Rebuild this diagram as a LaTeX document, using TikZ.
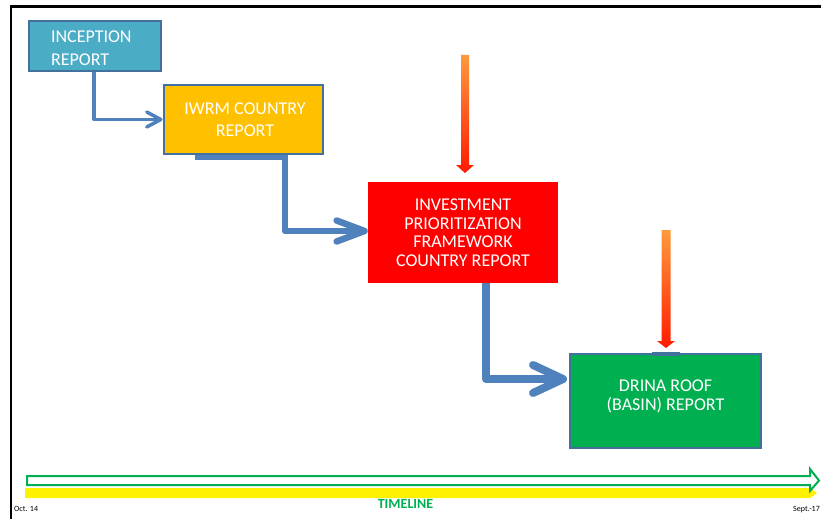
\documentclass[tikz,border=0pt]{standalone}
\usepackage{fontspec}
\setmainfont{Carlito}
\usetikzlibrary{arrows.meta}
\definecolor{incfill}{HTML}{4BACC6}
\definecolor{boxline}{HTML}{41719C}
\definecolor{iwrmfill}{HTML}{FFC000}
\definecolor{grnfill}{HTML}{00B050}
\definecolor{connblue}{HTML}{4F81BD}
\definecolor{arrorange}{HTML}{FF9A3C}
\definecolor{arrred}{HTML}{FF1A00}
\begin{document}
\begin{tikzpicture}[x=1pt,y=-1pt,
  box/.style={rectangle, text=white, inner sep=0pt, align=center},
  outlined/.style={draw=boxline, line width=2pt},
  conn/.style={draw=connblue, line join=round},
  feed/.style={top color=arrorange, bottom color=arrred},
  smalltxt/.style={font=\fontsize{8}{9}\selectfont, inner sep=0pt, anchor=base west}]
\useasboundingbox (0,0) rectangle (821,519);
\fill[white] (0,0) rectangle (821,519);
% frame
\fill[black] (10,5) rectangle (821,7.7);
\fill[black] (10,5) rectangle (12.3,519);
% boxes
\node[box, outlined, fill=incfill, minimum width=132pt, minimum height=50pt,
      text width=88pt, inner xsep=22pt, align=left,
      font=\fontsize{18}{23}\selectfont] (inc) at (95,46) {\rule{0pt}{15.6pt}INCEPTION\\REPORT};
\node[box, outlined, fill=iwrmfill, minimum width=159pt, minimum height=69pt,
      font=\fontsize{18}{22}\selectfont] (iwrm) at (243,119.5) {\hspace*{4pt}IWRM COUNTRY\\\hspace*{4pt}REPORT};
\node[box, fill=red, minimum width=190pt, minimum height=101pt,
      font=\fontsize{18}{18.5}\selectfont] (ipf) at (463,232.5) {INVESTMENT\\PRIORITIZATION\\FRAMEWORK\\COUNTRY REPORT};
\node[box, outlined, fill=grnfill, minimum width=191pt, minimum height=94pt,
      font=\fontsize{18}{19}\selectfont] (drina) at (665.5,401) {DRINA ROOF\\(BASIN) REPORT\rule[-12.5pt]{0pt}{1pt}};
% connectors
\draw[conn, line width=3.5pt, -{Straight Barb[length=14pt,width=15pt,round]}]
  ([xshift=-1pt]inc.south) |- (iwrm.west);
\draw[connblue, line width=5pt] ([xshift=-48pt,yshift=-2.5pt]iwrm.south) -- ([xshift=45pt,yshift=-2.5pt]iwrm.south);
\draw[conn, line width=6.5pt, -{Straight Barb[length=28pt,width=21pt,round]}]
  ([xshift=42pt]iwrm.south) |- ([yshift=1.5pt]ipf.west);
\draw[conn, line width=8pt, -{Straight Barb[length=30pt,width=28pt,round]}]
  ([xshift=23pt]ipf.south) |- ([yshift=22pt,xshift=-2pt]drina.west);
\draw[boxline, line width=3.5pt] ([xshift=-14pt,yshift=-1pt]drina.north) -- ([xshift=14pt,yshift=-1pt]drina.north);
% feeding arrows
\shade[feed] (461,55) -- (469,55) -- (469,165) -- (474,165) -- (465,173) -- (456,165) -- (461,165) -- cycle;
\shade[feed] (661.5,230) -- (670.5,230) -- (670.5,341) -- (675,341) -- (666,348) -- (657,341) -- (661.5,341) -- cycle;
% timeline
\fill[yellow] (25,488) -- (810,488) -- (817,493) -- (810,498) -- (25,498) -- cycle;
\draw[draw=grnfill, line width=2pt, fill=white, line join=miter]
  (27,476) -- (810,476) -- (810,469) -- (819,480.5) -- (810,491) -- (810,485) -- (27,485) -- cycle;
\node[smalltxt] (oct) at (14,511) {Oct. 14};
\node[smalltxt] (sept) at (793,511) {Sept.-17};
\node[font=\bfseries\fontsize{14}{16}\selectfont, text=grnfill, inner sep=0pt, anchor=base] (tl) at (405.5,508) {TIMELINE};
\end{tikzpicture}
\end{document}
